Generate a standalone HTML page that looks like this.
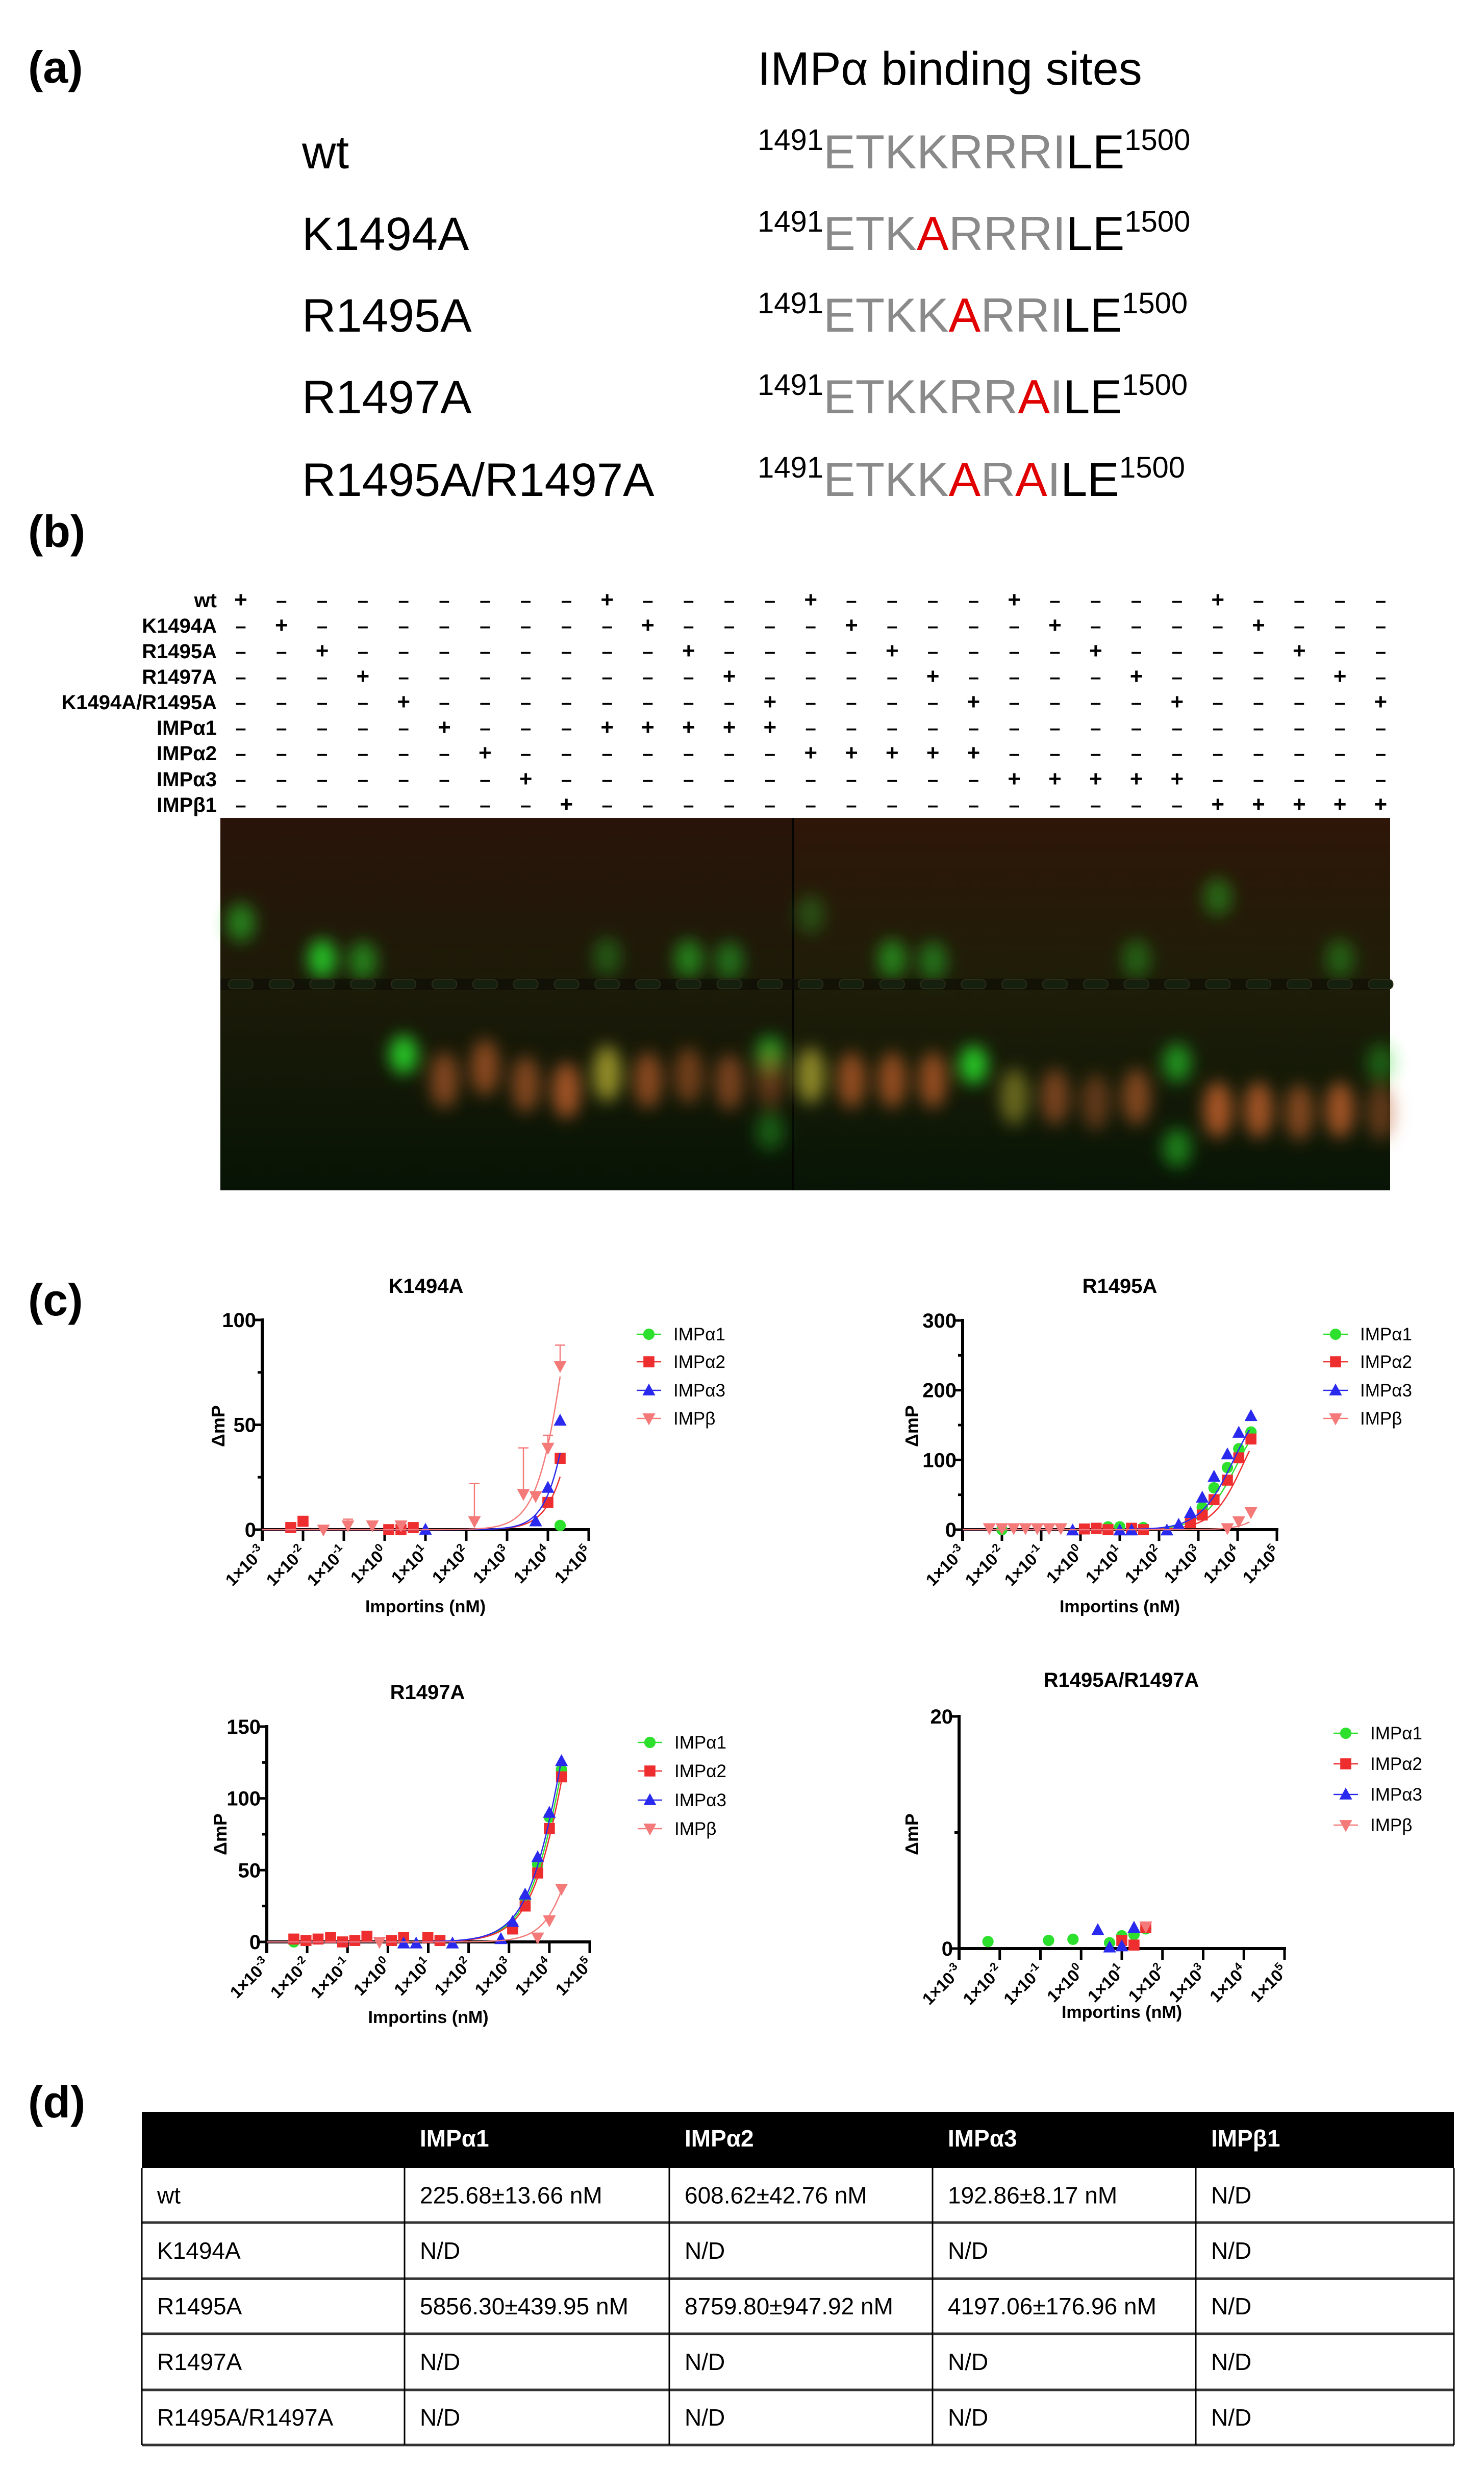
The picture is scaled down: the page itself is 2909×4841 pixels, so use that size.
<!DOCTYPE html>
<html><head><meta charset="utf-8"><style>
html,body{margin:0;padding:0;background:#fff;}
svg{display:block;font-family:"Liberation Sans",Arial,sans-serif;}
</style></head><body>
<svg id="fig" xmlns="http://www.w3.org/2000/svg" width="2909" height="4841" viewBox="0 0 2909 4841">
<defs>
<filter id="blur" x="-50%" y="-50%" width="200%" height="200%"><feGaussianBlur stdDeviation="16"/></filter>
<linearGradient id="gelbgL" x1="0" y1="0" x2="0" y2="1"><stop offset="0" stop-color="#2a140a"/><stop offset="0.45" stop-color="#1c1a08"/><stop offset="1" stop-color="#071405"/></linearGradient>
<linearGradient id="gelbgR" x1="0" y1="0" x2="0" y2="1"><stop offset="0" stop-color="#2e1608"/><stop offset="0.45" stop-color="#1e1d08"/><stop offset="1" stop-color="#081506"/></linearGradient>
</defs>

<g>
<text x="55" y="162" font-size="88" font-weight="bold">(a)</text>
<text x="1485" y="166" font-size="92">IMPα binding sites</text>
<g font-size="92">
<text x="592" y="330">wt</text>
<text x="592" y="490">K1494A</text>
<text x="592" y="650">R1495A</text>
<text x="592" y="810">R1497A</text>
<text x="592" y="972">R1495A/R1497A</text>
</g>
<g font-size="94">
<text x="1485" y="330"><tspan font-size="58" dy="-36">1491</tspan><tspan dy="36" fill="#8a8a8a">ETKKRRRI</tspan><tspan fill="#000">LE</tspan><tspan font-size="58" dy="-36">1500</tspan></text>
<text x="1485" y="490"><tspan font-size="58" dy="-36">1491</tspan><tspan dy="36" fill="#8a8a8a">ETK</tspan><tspan fill="#e00000">A</tspan><tspan fill="#8a8a8a">RRRI</tspan><tspan fill="#000">LE</tspan><tspan font-size="58" dy="-36">1500</tspan></text>
<text x="1485" y="650"><tspan font-size="58" dy="-36">1491</tspan><tspan dy="36" fill="#8a8a8a">ETKK</tspan><tspan fill="#e00000">A</tspan><tspan fill="#8a8a8a">RRI</tspan><tspan fill="#000">LE</tspan><tspan font-size="58" dy="-36">1500</tspan></text>
<text x="1485" y="810"><tspan font-size="58" dy="-36">1491</tspan><tspan dy="36" fill="#8a8a8a">ETKKRR</tspan><tspan fill="#e00000">A</tspan><tspan fill="#8a8a8a">I</tspan><tspan fill="#000">LE</tspan><tspan font-size="58" dy="-36">1500</tspan></text>
<text x="1485" y="972"><tspan font-size="58" dy="-36">1491</tspan><tspan dy="36" fill="#8a8a8a">ETKK</tspan><tspan fill="#e00000">A</tspan><tspan fill="#8a8a8a">R</tspan><tspan fill="#e00000">A</tspan><tspan fill="#8a8a8a">I</tspan><tspan fill="#000">LE</tspan><tspan font-size="58" dy="-36">1500</tspan></text>
</g>
</g>

<text x="55" y="1072" font-size="88" font-weight="bold">(b)</text>
<g id="gelLabels"></g>
<g id="gel"></g>

<text x="55" y="2578" font-size="88" font-weight="bold">(c)</text>
<g id="charts"></g>

<text x="55" y="4150" font-size="88" font-weight="bold">(d)</text>
<g id="table"></g>
</svg>

<script>
var NS = "http://www.w3.org/2000/svg";
var rowNames = ["wt","K1494A","R1495A","R1497A","K1494A/R1495A","IMPα1","IMPα2","IMPα3","IMPβ1"];
var plusCols = [[0,9,14,19,24],[1,10,15,20,25],[2,11,16,21,26],[3,12,17,22,27],[4,13,18,23,28],[5,9,10,11,12,13],[6,14,15,16,17,18],[7,19,20,21,22,23],[8,24,25,26,27,28]];
var bandLane = [0,2,3,4,5,6,7,8,9,9,10,11,11,12,12,13,13,13,14,14,15,16,16,17,17,18,19,20,21,22,22,23,23,24,24,25,26,27,27,28,28];
var bandY    = [1808,1879,1883,2067,2117,2092,2125,2137,2104,1875,2117,2108,1879,2121,1883,2067,2115,2217,2108,1792,2117,2117,1879,2117,1883,2087,2150,2150,2160,2150,1879,2083,2250,2175,1758,2175,2180,2175,1879,2180,2083];
var bandC    = ["g","g","g","g","o","o","o","o","y","g","o","o","g","o","g","g","o","g","y","g","o","o","g","o","g","g","y","o","o","o","g","g","g","o","g","o","o","o","g","o","g"];
var bandI    = [0.6,0.95,0.6,1,0.7,0.75,0.7,0.9,0.9,0.35,0.75,0.6,0.6,0.65,0.5,0.7,0.5,0.4,0.85,0.3,0.8,0.8,0.6,0.8,0.5,1,0.6,0.65,0.5,0.7,0.4,0.7,0.6,0.95,0.45,0.9,0.7,0.9,0.4,0.5,0.4];

function mk(tag, attrs, parent){var e=document.createElementNS(NS,tag);for(var k in attrs)e.setAttribute(k,attrs[k]);if(parent)parent.appendChild(e);return e;}
function laneX(i){return 472+79.8*i;}

(function(){
  var g=document.getElementById('gelLabels');
  var rowY=[1177,1227,1277,1327,1377,1427,1477,1528,1578];
  for(var r=0;r<rowNames.length;r++){
    var t=mk('text',{x:425,y:rowY[r]+13,'font-size':40,'font-weight':'bold','text-anchor':'end'},g);
    t.textContent=rowNames[r];
    
    
    for(var c=0;c<29;c++){
      var plus=plusCols[r].indexOf(c)>=0;
      var s=mk('text',{x:laneX(c),y:rowY[r]+13,'font-size':plus?44:38,'font-weight':'bold','text-anchor':'middle'},g);
      s.textContent=plus?'+':'–';
      
      
    }
  }
  var gel=document.getElementById('gel');
  var bgL=mk('rect',{x:432,y:1603,width:1135,height:730,fill:'url(#gelbgL)'},gel);
  
  
  var bgR=mk('rect',{x:1555,y:1603,width:1170,height:730,fill:'url(#gelbgR)'},gel);
  
  
  var div=mk('line',{x1:1555,y1:1603,x2:1555,y2:2333,stroke:'#050505','stroke-width':4},gel);
  
  
  var bands=mk('g',{filter:'url(#blur)'},gel);
  for(var i=0;i<bandLane.length;i++){
    var col=bandC[i]=='g'?'#27d52a':(bandC[i]=='o'?'#c0602a':'#b0a830');
    var ry=bandC[i]=='g'?38:55;
    var e=mk('ellipse',{cx:laneX(bandLane[i]),cy:bandY[i],rx:28,ry:ry,fill:col,'fill-opacity':bandI[i]*0.9},bands);
    
    
  }
  var wl=mk('rect',{x:432,y:1918,width:2293,height:22,fill:'#0c0c06','fill-opacity':0.6},gel);
  
  
  for(var c=0;c<29;c++){
    var w=mk('rect',{x:laneX(c)-24,y:1920,width:48,height:18,rx:8,fill:'#16200f',stroke:'#2c2c18','stroke-width':2},gel);
    
    
  }
})();

var seriesNames = ["IMPα1","IMPα2","IMPα3","IMPβ"];
var xTickExp = [-3,-2,-1,0,1,2,3,4,5];

var k_a1_x=[4.3]; var k_a1_y=[2];
var k_a2_x=[-2.3,-2.0,0.1,0.4,0.7,4.0,4.3]; var k_a2_y=[1,4,0,0,1,13,34];
var k_a3_x=[1.0,3.7,4.0,4.3]; var k_a3_y=[0,4,20,52];
var k_b_x=[-1.5,-0.9,-0.3,0.4,2.2,3.4,3.7,4.0,4.3]; var k_b_y=[0,2,2,2,4,17,16,39,78];
var k_b_err=[0,3,0,2,18,22,2,6,10];
var k_fitTop=[null,200,200,200]; var k_fitEC=[0,5.0,4.8,4.5]; var k_fitHill=[1,1.2,1.3,1.2];

var r5_a1_x=[-2.0,0.7,1.0,1.3,1.6,2.8,3.1,3.4,3.74,4.03,4.34]; var r5_a1_y=[0,4,4,1,3,14,32,60,89,116,140];
var r5_a2_x=[0.1,0.4,0.7,1.3,1.6,2.8,3.1,3.4,3.74,4.03,4.34]; var r5_a2_y=[1,2,0,2,0,10,21,43,71,103,130];
var r5_a3_x=[-0.2,1.0,1.3,2.2,2.5,2.8,3.1,3.4,3.74,4.03,4.34]; var r5_a3_y=[-1,-1,-1,-1,7,24,46,76,108,139,163];
var r5_b_x=[-2.32,-2.0,-1.7,-1.4,-1.1,-0.8,-0.5,3.74,4.03,4.34]; var r5_b_y=[2,2,2,2,2,2,2,2,12,25];
var r5_fitTop=[190,190,200,100]; var r5_fitEC=[4.0,4.15,3.9,5.0]; var r5_fitHill=[1.0,1.1,1.0,1.3];

var r7_a1_x=[-2.33,3.09,3.4,3.71,4.0,4.3]; var r7_a1_y=[0,10,30,54,87,120];
var r7_a2_x=[-2.33,-2.03,-1.73,-1.42,-1.12,-0.82,-0.52,0.09,0.39,0.99,1.29,3.09,3.4,3.71,4.0,4.3]; var r7_a2_y=[2,1,2,3,0,1,4,1,3,3,1,9,25,48,79,115];
var r7_a3_x=[0.39,0.7,1.6,2.8,3.09,3.4,3.71,4.0,4.3]; var r7_a3_y=[-1,-1,-1,2,14,33,59,90,126];
var r7_b_x=[-0.21,3.71,4.0,4.3]; var r7_b_y=[0,3,15,37];
var r7_fitTop=[300,300,300,200]; var r7_fitEC=[4.5,4.55,4.45,4.9]; var r7_fitHill=[0.9,0.9,0.9,1.1];

var d_a1_x=[-2.29,-0.8,-0.2,0.7,1.0,1.3,1.59]; var d_a1_y=[0.6,0.7,0.8,0.5,1.1,1.2,1.7];
var d_a2_x=[1.0,1.3,1.59]; var d_a2_y=[0.7,0.3,1.8];
var d_a3_x=[0.41,0.7,1.0,1.3]; var d_a3_y=[1.6,0.1,0.2,1.8];
var d_b_x=[1.59]; var d_b_y=[1.9];

var colors=["#2ee02e","#ee2e2e","#2a2aee","#f47a7a"];
var shapes=["circle","square","tri","tridown"];

function marker(g,shape,cx,cy,s,col){
  var e;
  if(shape=="circle") e=mk('circle',{cx:cx,cy:cy,r:s*0.62,fill:col},g);
  else if(shape=="square") e=mk('rect',{x:cx-s*0.6,y:cy-s*0.6,width:s*1.2,height:s*1.2,fill:col},g);
  else if(shape=="tri") e=mk('polygon',{points:(cx)+','+(cy-s*0.75)+' '+(cx-s*0.7)+','+(cy+s*0.55)+' '+(cx+s*0.7)+','+(cy+s*0.55),fill:col},g);
  else e=mk('polygon',{points:(cx)+','+(cy+s*0.75)+' '+(cx-s*0.7)+','+(cy-s*0.55)+' '+(cx+s*0.7)+','+(cy-s*0.55),fill:col},g);
  return e;
}

function chart(cfg){
  var root=document.getElementById('charts');
  var g=mk('g',{},root);
  
  
  var xs=function(v){return cfg.x0+(v+3)*(cfg.x1-cfg.x0)/8;};
  var ys=function(v){return cfg.y0-v*(cfg.y0-cfg.yTop)/cfg.ymax;};
  var t=mk('text',{x:cfg.tx,y:cfg.ty,'font-size':40,'font-weight':'bold','text-anchor':'middle'},g);
  t.textContent=cfg.title;
  
  
  var ya=mk('line',{x1:cfg.x0,y1:cfg.yTop-3,x2:cfg.x0,y2:cfg.y0+22,stroke:'#000','stroke-width':6},g);
  
  
  var xa=mk('line',{x1:cfg.x0,y1:cfg.y0,x2:cfg.x1+3,y2:cfg.y0,stroke:'#000','stroke-width':6},g);
  
  
  for(var i=0;i<cfg.yMajor.length;i++){
    var v=cfg.yMajor[i], y=ys(v);
    var tk=mk('line',{x1:cfg.x0-14,y1:y,x2:cfg.x0,y2:y,stroke:'#000','stroke-width':5},g);
    
    
    var lb=mk('text',{x:cfg.x0-12,y:y+14,'font-size':40,'font-weight':'bold','text-anchor':'end'},g);
    lb.textContent=v;
    
    
  }
  for(var i=0;i<cfg.yMinor.length;i++){
    var y=ys(cfg.yMinor[i]);
    var mt=mk('line',{x1:cfg.x0-9,y1:y,x2:cfg.x0,y2:y,stroke:'#000','stroke-width':5},g);
    
    
  }
  for(var i=0;i<xTickExp.length;i++){
    var x=xs(xTickExp[i]);
    var xt=mk('line',{x1:x,y1:cfg.y0,x2:x,y2:cfg.y0+22,stroke:'#000','stroke-width':5},g);
    
    
    var xl=mk('text',{x:x+8,y:cfg.y0+46,'font-size':33,'font-weight':'bold','text-anchor':'end',transform:'rotate(-45 '+(x+8)+' '+(cfg.y0+46)+')'},g);
    
    
    var t1=mk('tspan',{},xl); t1.textContent='1×10';
    var t2=mk('tspan',{'font-size':22,dy:-14}); t2.textContent=String(xTickExp[i]); xl.appendChild(t2);
  }
  var xlab=mk('text',{x:(cfg.x0+cfg.x1)/2,y:cfg.xlabY,'font-size':34,'font-weight':'bold','text-anchor':'middle'},g);
  xlab.textContent='Importins (nM)';
  
  
  var ylab=mk('text',{x:cfg.ylabX,y:cfg.ylabY,'font-size':36,'font-weight':'bold','text-anchor':'middle',transform:'rotate(-90 '+cfg.ylabX+' '+cfg.ylabY+')'},g);
  ylab.textContent='ΔmP';
  
  
  for(var s=0;s<4;s++){
    var X=cfg.data[s][0], Y=cfg.data[s][1];
    var sg=mk('g',{},g);
    
    
    if(cfg.fit && cfg.fit[0][s]!==null){
      var top=cfg.fit[0][s], ec=cfg.fit[1][s], h=cfg.fit[2][s];
      var xmax=Math.max.apply(null,X);
      var pts=[];
      for(var xv=-3;xv<=xmax+0.001;xv+=0.05){
        var yv=top/(1+Math.pow(10,h*(ec-xv)));
        pts.push(xs(xv).toFixed(1)+','+ys(yv).toFixed(1));
      }
      var pl=mk('polyline',{points:pts.join(' '),fill:'none',stroke:colors[s],'stroke-width':2.5},sg);
      
      
    }
    var err=cfg.data[s][2];
    for(var i=0;i<X.length;i++){
      if(err && err[i]>0){
        var ex=xs(X[i]), ey1=ys(Y[i]+err[i]);
        var eb=mk('path',{d:'M'+ex+' '+ys(Y[i])+'V'+ey1+'M'+(ex-10)+' '+ey1+'H'+(ex+10),stroke:colors[s],'stroke-width':2.5,fill:'none'},sg);
        
        
      }
      var m=marker(sg,shapes[s],xs(X[i]),ys(Y[i]),18,colors[s]);
      
      
    }
  }
  for(var s=0;s<4;s++){
    var ly=cfg.legY[s];
    var lg=mk('g',{},g);
    
    
    mk('line',{x1:cfg.legX-24,y1:ly,x2:cfg.legX+24,y2:ly,stroke:colors[s],'stroke-width':2.5},lg);
    marker(lg,shapes[s],cfg.legX,ly,18,colors[s]);
    var lt=mk('text',{x:cfg.legX+48,y:ly+12,'font-size':35},lg);
    lt.textContent=seriesNames[s];
  }
}

chart({name:'chart-k1494a',title:'K1494A',tx:835,ty:2534,x0:514,x1:1154,yTop:2587,y0:2998,ymax:100,yMajor:[0,50,100],yMinor:[25,75],
  xlabY:3160,ylabX:440,ylabY:2795,legX:1272,legY:[2615,2669,2725,2780],
  fit:[k_fitTop,k_fitEC,k_fitHill],
  data:[[k_a1_x,k_a1_y],[k_a2_x,k_a2_y],[k_a3_x,k_a3_y],[k_b_x,k_b_y,k_b_err]]});
chart({name:'chart-r1495a',title:'R1495A',tx:2195,ty:2534,x0:1887,x1:2503,yTop:2588,y0:2998,ymax:300,yMajor:[0,100,200,300],yMinor:[50,150,250],
  xlabY:3160,ylabX:1800,ylabY:2795,legX:2618,legY:[2615,2669,2725,2780],
  fit:[r5_fitTop,r5_fitEC,r5_fitHill],
  data:[[r5_a1_x,r5_a1_y],[r5_a2_x,r5_a2_y],[r5_a3_x,r5_a3_y],[r5_b_x,r5_b_y]]});
chart({name:'chart-r1497a',title:'R1497A',tx:838,ty:3330,x0:523,x1:1156,yTop:3384,y0:3806,ymax:150,yMajor:[0,50,100,150],yMinor:[25,75,125],
  xlabY:3965,ylabX:444,ylabY:3595,legX:1274,legY:[3415,3471,3528,3584],
  fit:[r7_fitTop,r7_fitEC,r7_fitHill],
  data:[[r7_a1_x,r7_a1_y],[r7_a2_x,r7_a2_y],[r7_a3_x,r7_a3_y],[r7_b_x,r7_b_y]]});
chart({name:'chart-r1495a-r1497a',title:'R1495A/R1497A',tx:2198,ty:3306,x0:1880,x1:2518,yTop:3364,y0:3819,ymax:20,yMajor:[0,20],yMinor:[10],
  xlabY:3955,ylabX:1800,ylabY:3595,legX:2638,legY:[3397,3457,3517,3577],
  fit:null,
  data:[[d_a1_x,d_a1_y],[d_a2_x,d_a2_y],[d_a3_x,d_a3_y],[d_b_x,d_b_y]]});

var tHead=["","IMPα1","IMPα2","IMPα3","IMPβ1"];
var tRows=[["wt","225.68±13.66 nM","608.62±42.76 nM","192.86±8.17 nM","N/D"],
["K1494A","N/D","N/D","N/D","N/D"],
["R1495A","5856.30±439.95 nM","8759.80±947.92 nM","4197.06±176.96 nM","N/D"],
["R1497A","N/D","N/D","N/D","N/D"],
["R1495A/R1497A","N/D","N/D","N/D","N/D"]];
(function(){
  var g=document.getElementById('table');
  var cx=[278,793,1312,1828,2344,2850];
  var ry=[4139,4249,4356,4466,4574,4684,4792];
  var h=mk('rect',{x:cx[0],y:ry[0],width:cx[5]-cx[0],height:ry[1]-ry[0],fill:'#000'},g);
  
  
  for(var c=0;c<5;c++){
    var t=mk('text',{x:cx[c]+30,y:ry[0]+68,'font-size':46,'font-weight':'bold',fill:'#fff'},g);
    t.textContent=tHead[c];
    
    
  }
  var top=ry[1];
  for(var r=0;r<5;r++){
    var bottom=ry[r+2];
    for(var c=0;c<5;c++){
      var t=mk('text',{x:cx[c]+30,y:(top+bottom)/2+16,'font-size':46},g);
      t.textContent=tRows[r][c];
      
      
    }
    var hl=mk('line',{x1:cx[0],y1:bottom,x2:cx[5],y2:bottom,stroke:'#333','stroke-width':5},g);
    
    
    top=bottom;
  }
  for(var c=0;c<6;c++){
    var vl=mk('line',{x1:cx[c],y1:ry[1],x2:cx[c],y2:ry[6],stroke:'#000','stroke-width':3},g);
    
    
  }
})();
</script>
</body></html>
